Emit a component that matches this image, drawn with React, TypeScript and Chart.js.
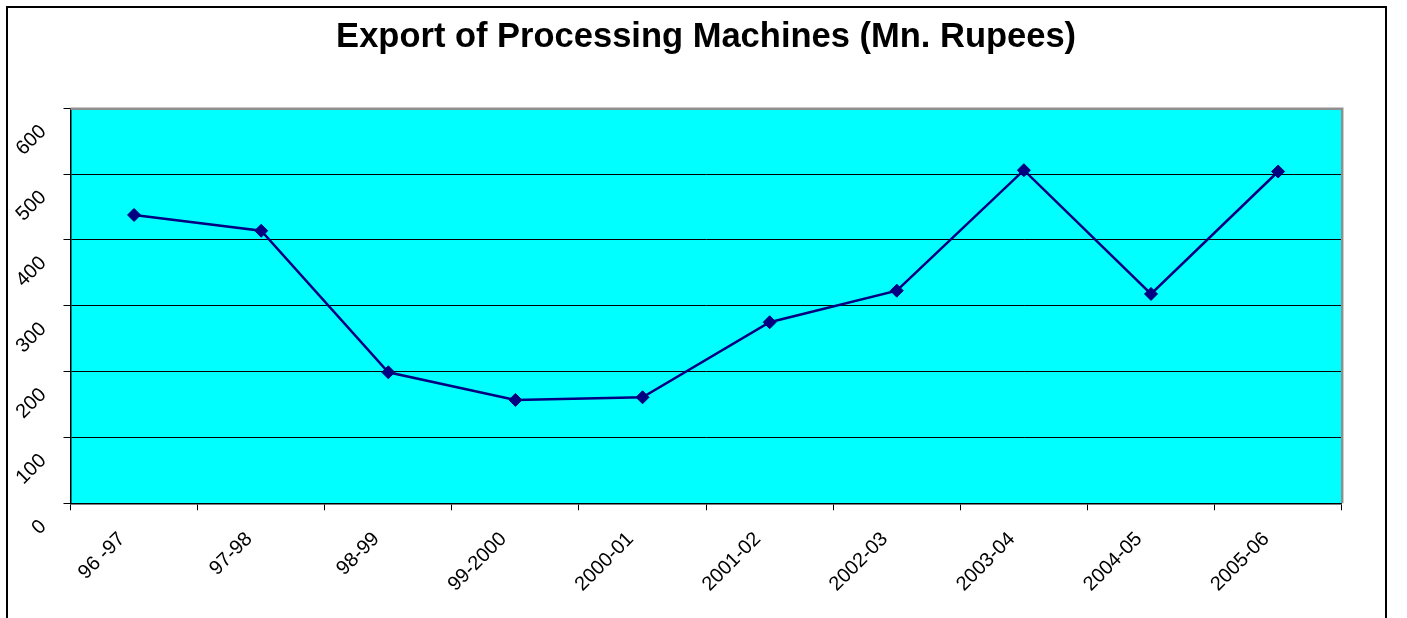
import React, { useEffect, useRef } from "react";
import { Chart, registerables } from "chart.js";

Chart.register(...registerables);

const categories: string[] = [
  "96 -97",
  "97-98",
  "98-99",
  "99-2000",
  "2000-01",
  "2001-02",
  "2002-03",
  "2003-04",
  "2004-05",
  "2005-06",
];

const exportValues: number[] = [438, 414, 199, 157, 161, 275, 323, 506, 318, 504];

const yTickValues: number[] = [0, 100, 200, 300, 400, 500, 600];

const chartTitle = "Export of Processing Machines (Mn. Rupees)";

const FONT = "'Liberation Sans', Arial, Helvetica, sans-serif";

const plotDecor = {
  id: "plotDecor",
  beforeDraw(chart: any) {
    const { ctx, chartArea } = chart;
    const { left, top, right, bottom } = chartArea;
    ctx.save();
    ctx.fillStyle = "#00FFFF";
    ctx.fillRect(left, top, right - left, bottom - top);
    ctx.restore();
  },
  beforeDatasetsDraw(chart: any) {
    const { ctx, chartArea } = chart;
    const { left, top, right, bottom } = chartArea;
    ctx.save();
    ctx.strokeStyle = "#8f8f8f";
    ctx.lineWidth = 2.5;
    ctx.beginPath();
    ctx.moveTo(left, top + 0.5);
    ctx.lineTo(right + 0.5, top + 0.5);
    ctx.lineTo(right + 0.5, bottom);
    ctx.stroke();
    ctx.restore();
  },
};

export default function App() {
  const canvasRef = useRef<HTMLCanvasElement | null>(null);

  useEffect(() => {
    const canvas = canvasRef.current;
    if (!canvas) return;
    const chart = new Chart(canvas, {
      type: "line",
      data: {
        labels: categories,
        datasets: [
          {
            label: "Export",
            data: exportValues,
            borderColor: "#000080",
            backgroundColor: "#000080",
            borderWidth: 2.5,
            tension: 0,
            pointStyle: "rectRot",
            pointRadius: 6.5,
            pointHoverRadius: 6.5,
            pointBackgroundColor: "#000080",
            pointBorderColor: "#000080",
            pointBorderWidth: 1,
            fill: false,
          },
        ],
      },
      options: {
        responsive: false,
        animation: false,
        devicePixelRatio: 1,
        layout: {
          padding: { left: 0, right: 43.3, top: 0, bottom: 24.7 },
        },
        plugins: {
          legend: { display: false },
          tooltip: { enabled: false },
          title: {
            display: true,
            fullSize: false,
            text: chartTitle,
            color: "#000",
            font: { family: FONT, size: 34.5, weight: "bold" },
            padding: { top: 9, bottom: 49.9 },
          },
        },
        scales: {
          x: {
            type: "category",
            offset: true,
            grid: {
              offset: true,
              display: true,
              drawOnChartArea: false,
              drawTicks: true,
              tickLength: 7,
              tickColor: "#000",
              tickWidth: 1,
            },
            border: { display: true, color: "#000", width: 1.5 },
            ticks: {
              autoSkip: false,
              minRotation: 45,
              maxRotation: 45,
              padding: 17.2,
              labelOffset: -12,
              color: "#000",
              font: { family: FONT, size: 20 },
            },
            afterFit: (scale: any) => {
              scale.height = 100;
            },
          },
          y: {
            type: "linear",
            min: 0,
            max: 600,
            afterBuildTicks: (scale: any) => {
              scale.ticks = yTickValues.map((v) => ({ value: v }));
            },
            grid: {
              color: (ctx: any) =>
                ctx.tick && ctx.tick.value === 600 ? "rgba(0,0,0,0)" : "#000",
              lineWidth: 1,
              drawTicks: true,
              tickLength: 7,
              tickColor: "#000",
              tickWidth: 1,
            },
            border: { display: true, color: "#000", width: 1.5 },
            ticks: {
              autoSkip: false,
              minRotation: 45,
              maxRotation: 45,
              padding: 20.3,
              labelOffset: 20.1,
              color: "#000",
              font: { family: FONT, size: 20 },
            },
            afterFit: (scale: any) => {
              scale.width = 62.5;
            },
          },
        },
      },
      plugins: [plotDecor],
    });
    return () => {
      chart.destroy();
    };
  }, []);

  return (
    <div
      style={{
        position: "absolute",
        left: 6,
        top: 6,
        width: 1377,
        height: 620,
        border: "2px solid #000",
        background: "#fff",
      }}
    >
      <canvas
        ref={canvasRef}
        width={1377}
        height={620}
        style={{ display: "block", width: 1377, height: 620 }}
      />
    </div>
  );
}
